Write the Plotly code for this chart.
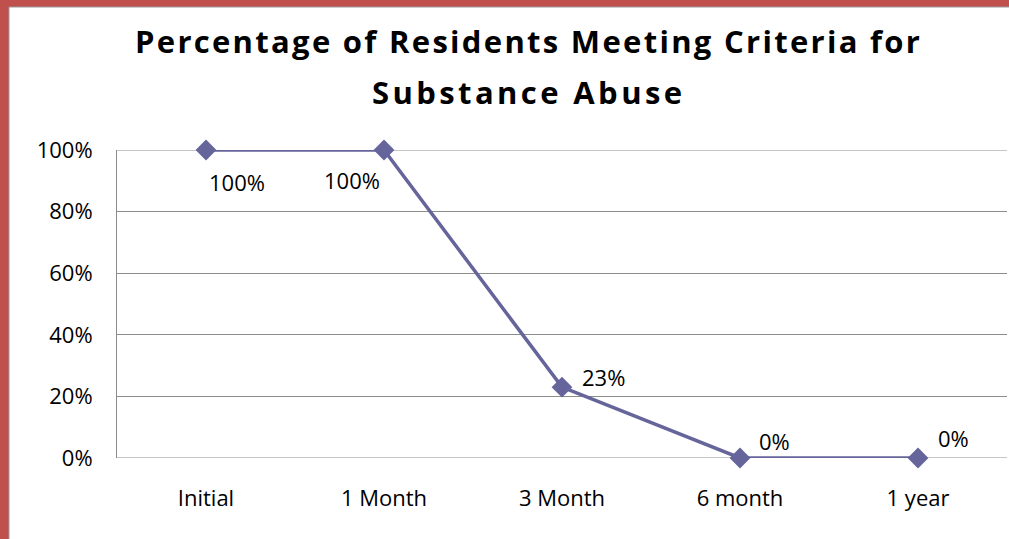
import plotly.graph_objects as go

categories = ["Initial", "1 Month", "3 Month", "6 month", "1 year"]
values = [1.00, 1.00, 0.23, 0.00, 0.00]
labels = ["100%", "100%", "23%", "0%", "0%"]
y_ticks = [0, 0.2, 0.4, 0.6, 0.8, 1.0]
y_tick_text = ["0%", "20%", "40%", "60%", "80%", "100%"]
title_lines = ["Percentage of Residents Meeting Criteria for", "Substance Abuse"]

# label offsets in pixels (style only)
label_shift_x = [31, -32, 41, 34, 35]
label_shift_y = [-32, -30, 10, 17, 20]

W, H = 1009, 539
L, R, T, B = 117, 2, 150, 81
pw, ph = W - L - R, H - T - B

def px_x(p):
    return (p - L) / pw

def px_y(p):
    return (H - B - p) / ph

line_color = "#65659B"
grid_color = "#8C8C8C"
font_family = "Open Sans, Lato, sans-serif"
fsize = 22

fig = go.Figure()
fig.add_trace(go.Scatter(
    x=categories, y=values, mode="lines+markers",
    line=dict(color=line_color, width=3.5),
    marker=dict(symbol="diamond", size=16, color=line_color),
    cliponaxis=False, showlegend=False,
))

shapes = [
    dict(type="rect", xref="paper", yref="paper",
         x0=px_x(9), x1=px_x(W + 5), y0=px_y(7), y1=px_y(H + 5),
         fillcolor="#FFFFFF", line=dict(color="#9A9A9A", width=1), layer="below"),
]
# boundary gridlines (plotly omits gridlines at the range edges)
for yv in (y_ticks[0], y_ticks[-1]):
    shapes.append(dict(type="line", xref="paper", yref="y", x0=0, x1=1, y0=yv, y1=yv,
                       line=dict(color=grid_color, width=1), layer="below"))

annotations = [
    dict(text='<b><span style="letter-spacing:2.3px">%s</span></b>' % title_lines[0],
         xref="paper", yref="paper",
         x=px_x(528), y=px_y(41), xanchor="center", yanchor="middle", showarrow=False,
         font=dict(family=font_family, size=31, color="#000000")),
    dict(text='<b><span style="letter-spacing:3.4px">%s</span></b>' % title_lines[1],
         xref="paper", yref="paper",
         x=px_x(528), y=px_y(92), xanchor="center", yanchor="middle", showarrow=False,
         font=dict(family=font_family, size=31, color="#000000")),
]
for c, v, t, sx, sy in zip(categories, values, labels, label_shift_x, label_shift_y):
    annotations.append(dict(
        x=c, y=v, xref="x", yref="y", text=t, showarrow=False,
        xanchor="center", yanchor="middle", xshift=sx, yshift=sy,
        font=dict(family=font_family, size=fsize, color="#000000"),
    ))

fig.update_layout(
    width=W, height=H,
    margin=dict(l=L, r=R, t=T, b=B, pad=0),
    paper_bgcolor="#C0504D",
    plot_bgcolor="rgba(0,0,0,0)",
    shapes=shapes,
    annotations=annotations,
    font=dict(family=font_family, size=fsize, color="#000000"),
    xaxis=dict(range=[-0.5, 4.5], showgrid=False, zeroline=False, showline=False,
               ticks="", tickfont=dict(size=fsize), ticklabelstandoff=25, fixedrange=True),
    yaxis=dict(range=[0, 1.0], tickvals=y_ticks, ticktext=y_tick_text,
               showgrid=True, gridcolor=grid_color, gridwidth=1, zeroline=False,
               showline=True, linecolor=grid_color, linewidth=1,
               ticks="", tickfont=dict(size=fsize), ticklabelstandoff=19, fixedrange=True),
)

fig.write_html("out.html")
